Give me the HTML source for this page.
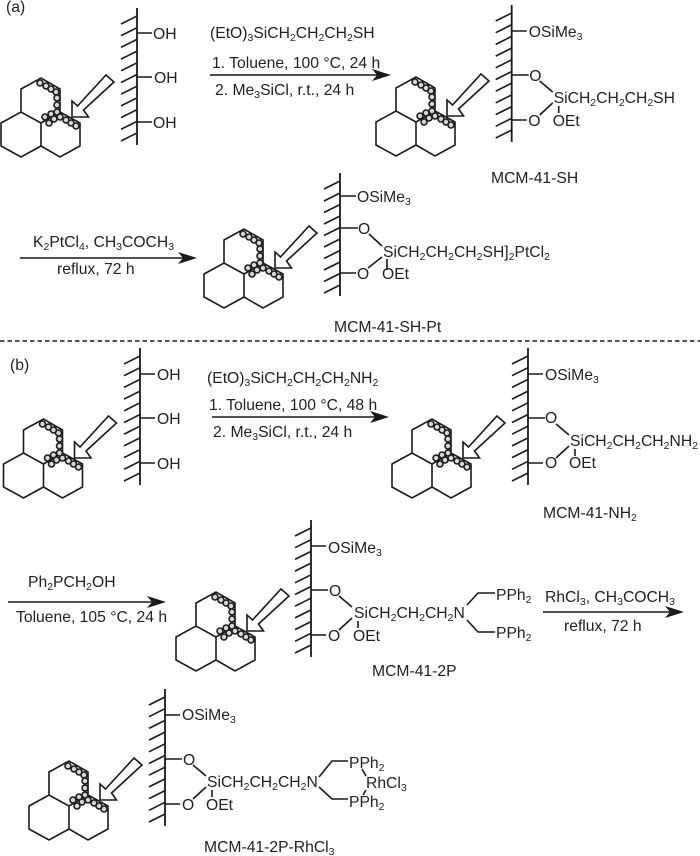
<!DOCTYPE html>
<html><head><meta charset="utf-8"><style>
html,body{margin:0;padding:0;background:#fff}
svg{display:block}
text{font-family:"Liberation Sans",sans-serif;font-size:15.7px;fill:#222}
.s{font-size:10.5px}
.l{stroke:#1a1a1a;stroke-width:1.6;fill:none}
</style></head><body>
<svg width="700" height="856" viewBox="0 0 700 856" xmlns="http://www.w3.org/2000/svg">
<defs>
<g id="cluster">
<path class="l" d="M21 112V89L41 78L60 89V112L80 123V146L60 157L41 146V123L21 112L1 123V146L21 157L41 146M60 112L41 123"/>
<path d="M106 75L114 82L83.500 110L88.500 117H72V101L77.500 106Z" fill="#fff" stroke="#1a1a1a" stroke-width="1.6"/>
<g fill="#d6d6d6" stroke="#1c1c1c" stroke-width="1.6">
<circle cx="40" cy="83" r="3"/><circle cx="46" cy="86" r="3"/><circle cx="51" cy="89" r="3"/><circle cx="56" cy="92" r="3"/><circle cx="57" cy="98" r="3"/><circle cx="57" cy="105" r="3"/><circle cx="57" cy="112" r="3"/><circle cx="45" cy="117" r="3"/><circle cx="51" cy="114" r="3"/><circle cx="49" cy="123" r="3"/><circle cx="54" cy="119" r="3"/><circle cx="60" cy="117" r="3"/><circle cx="66" cy="120" r="3"/><circle cx="71" cy="123" r="3"/><circle cx="76" cy="126" r="3"/>
</g>
</g>
<g id="wall" class="l">
<path stroke-width="1.8" d="M0 0V137"/>
<path d="M0 8L-16 16M0 19.700L-16 27.700M0 31.400L-16 39.400M0 43.100L-16 51.100M0 54.800L-16 62.800M0 66.500L-16 74.500M0 78.200L-16 86.200M0 89.900L-16 97.900M0 101.600L-16 109.600M0 113.300L-16 121.300M0 125L-16 133"/>
</g>
<g id="silyl" class="l">
<use href="#wall"/>
<path d="M0 26H15M0 70H17M0 115H15M28 76L41 87M28 110L41 98M47 101V108"/>
</g>
</defs>

<text x="6" y="12">(a)</text>
<text x="10" y="370">(b)</text>
<path d="M0 341H700" stroke="#1a1a1a" stroke-width="1.5" stroke-dasharray="4.500 3"/>

<!-- a1 -->
<use href="#cluster"/>
<g transform="translate(137,8)"><use href="#wall"/></g>
<path class="l" d="M137 33H152M137 77H152M137 122H152"/>
<text x="153" y="39">OH</text><text x="154" y="83">OH</text><text x="153" y="128">OH</text>

<text x="210" y="38">(EtO)<tspan class="s" dy="3">3</tspan><tspan dy="-3">SiCH</tspan><tspan class="s" dy="3">2</tspan><tspan dy="-3">CH</tspan><tspan class="s" dy="3">2</tspan><tspan dy="-3">CH</tspan><tspan class="s" dy="3">2</tspan><tspan dy="-3">SH</tspan></text>
<text x="212" y="68">1. Toluene, 100 °C, 24 h</text>
<path d="M210 75H378" stroke="#1a1a1a" stroke-width="1.6"/><path d="M391 75L372 69L377 75L372 81Z" fill="#1a1a1a"/>
<text x="215" y="95">2. Me<tspan class="s" dy="3">3</tspan><tspan dy="-3">SiCl, r.t., 24 h</tspan></text>

<!-- a2 -->
<use href="#cluster" x="375" y="-1"/>
<g transform="translate(511.700,5)"><use href="#silyl"/>
<text x="17" y="32">OSiMe<tspan class="s" dy="3">3</tspan></text>
<text x="17.500" y="76">O</text><text x="16.500" y="121">O</text>
<text x="42" y="98">SiCH<tspan class="s" dy="3">2</tspan><tspan dy="-3">CH</tspan><tspan class="s" dy="3">2</tspan><tspan dy="-3">CH</tspan><tspan class="s" dy="3">2</tspan><tspan dy="-3">SH</tspan></text>
<text x="41" y="121">OEt</text></g>
<text x="491" y="183">MCM-41-SH</text>

<!-- a3 reagents -->
<text x="33" y="247">K<tspan class="s" dy="3">2</tspan><tspan dy="-3">PtCl</tspan><tspan class="s" dy="3">4</tspan><tspan dy="-3">, CH</tspan><tspan class="s" dy="3">3</tspan><tspan dy="-3">COCH</tspan><tspan class="s" dy="3">3</tspan></text>
<path d="M20 258H184" stroke="#1a1a1a" stroke-width="1.6"/><path d="M197 258L178 252L183 258L178 264Z" fill="#1a1a1a"/>
<text x="57" y="274">reflux, 72 h</text>

<!-- a3 -->
<use href="#cluster" x="203" y="151"/>
<path stroke="#1a1a1a" stroke-width="1.8" d="M340 173V296"/>
<path class="l" d="M340 181L324 189M340 193L324 201M340 204.500L324 212.500M340 216L324 224M340 227.500L324 235.500M340 239L324 247M340 250.500L324 258.500M340 262L324 270M340 273.500L324 281.500M340 285L324 293M340 196H356M340 228H358M340 273H356M369 234L382 246M368 268L382 257M387 259V270"/>
<text x="357" y="202">OSiMe<tspan class="s" dy="3">3</tspan></text>
<text x="358" y="234">O</text><text x="357" y="279">O</text>
<text x="383" y="257">SiCH<tspan class="s" dy="3">2</tspan><tspan dy="-3">CH</tspan><tspan class="s" dy="3">2</tspan><tspan dy="-3">CH</tspan><tspan class="s" dy="3">2</tspan><tspan dy="-3">SH]</tspan><tspan class="s" dy="3">2</tspan><tspan dy="-3">PtCl</tspan><tspan class="s" dy="3">2</tspan></text>
<text x="382" y="279">OEt</text>
<text x="334" y="332">MCM-41-SH-Pt</text>

<!-- b1 -->
<use href="#cluster" x="2.500" y="341"/>
<g transform="translate(140,348)"><use href="#wall"/></g>
<path class="l" d="M140 374H155M140 418H155M140 463H155"/>
<text x="157" y="380">OH</text><text x="157" y="424">OH</text><text x="157" y="469">OH</text>

<text x="207" y="383">(EtO)<tspan class="s" dy="3">3</tspan><tspan dy="-3">SiCH</tspan><tspan class="s" dy="3">2</tspan><tspan dy="-3">CH</tspan><tspan class="s" dy="3">2</tspan><tspan dy="-3">CH</tspan><tspan class="s" dy="3">2</tspan><tspan dy="-3">NH</tspan><tspan class="s" dy="3">2</tspan></text>
<text x="209" y="410">1. Toluene, 100 °C, 48 h</text>
<path d="M212 417H376" stroke="#1a1a1a" stroke-width="1.6"/><path d="M389 417L370 411L375 417L370 423Z" fill="#1a1a1a"/>
<text x="213" y="437">2. Me<tspan class="s" dy="3">3</tspan><tspan dy="-3">SiCl, r.t., 24 h</tspan></text>

<!-- b2 -->
<use href="#cluster" x="391" y="341"/>
<g transform="translate(528,348)"><use href="#silyl"/>
<text x="17" y="32">OSiMe<tspan class="s" dy="3">3</tspan></text>
<text x="17" y="75">O</text><text x="17" y="120">O</text>
<text x="42" y="98">SiCH<tspan class="s" dy="3">2</tspan><tspan dy="-3">CH</tspan><tspan class="s" dy="3">2</tspan><tspan dy="-3">CH</tspan><tspan class="s" dy="3">2</tspan><tspan dy="-3">NH</tspan><tspan class="s" dy="3">2</tspan></text>
<text x="41" y="120">OEt</text></g>
<text x="543" y="518">MCM-41-NH<tspan class="s" dy="3">2</tspan></text>

<!-- b3 -->
<text x="28" y="587">Ph<tspan class="s" dy="3">2</tspan><tspan dy="-3">PCH</tspan><tspan class="s" dy="3">2</tspan><tspan dy="-3">OH</tspan></text>
<path d="M8 602H153" stroke="#1a1a1a" stroke-width="1.6"/><path d="M166 602L147 596L152 602L147 608Z" fill="#1a1a1a"/>
<text x="16" y="622">Toluene, 105 °C, 24 h</text>

<use href="#cluster" x="175" y="514"/>
<g transform="translate(311,520)"><use href="#silyl"/>
<text x="17" y="33">OSiMe<tspan class="s" dy="3">3</tspan></text>
<text x="18" y="76">O</text><text x="17" y="121">O</text>
<text x="43" y="98">SiCH<tspan class="s" dy="3">2</tspan><tspan dy="-3">CH</tspan><tspan class="s" dy="3">2</tspan><tspan dy="-3">CH</tspan><tspan class="s" dy="3">2</tspan><tspan dy="-3">N</tspan></text>
<text x="42" y="121">OEt</text></g>
<path class="l" d="M467 605L478 593H495M467 620L478 632H495"/>
<text x="496" y="600">PPh<tspan class="s" dy="3">2</tspan></text>
<text x="496" y="638">PPh<tspan class="s" dy="3">2</tspan></text>
<text x="372" y="676">MCM-41-2P</text>

<text x="545" y="602">RhCl<tspan class="s" dy="3">3</tspan><tspan dy="-3">, CH</tspan><tspan class="s" dy="3">3</tspan><tspan dy="-3">COCH</tspan><tspan class="s" dy="3">3</tspan></text>
<path d="M543 612H671" stroke="#1a1a1a" stroke-width="1.6"/><path d="M684 612L665 606L670 612L665 618Z" fill="#1a1a1a"/>
<text x="564" y="631">reflux, 72 h</text>

<!-- b4 -->
<use href="#cluster" x="28" y="683"/>
<g transform="translate(165,689)"><use href="#silyl"/>
<text x="17" y="31">OSiMe<tspan class="s" dy="3">3</tspan></text>
<text x="18" y="76">O</text><text x="17" y="121">O</text>
<text x="42" y="98">SiCH<tspan class="s" dy="3">2</tspan><tspan dy="-3">CH</tspan><tspan class="s" dy="3">2</tspan><tspan dy="-3">CH</tspan><tspan class="s" dy="3">2</tspan><tspan dy="-3">N</tspan></text>
<text x="41" y="121">OEt</text></g>
<path class="l" d="M319 777L332 761H348M319 787L332 799H348M362 769L366 776M363 795L366 790"/>
<text x="349" y="768">PPh<tspan class="s" dy="3">2</tspan></text>
<text x="349" y="807">PPh<tspan class="s" dy="3">2</tspan></text>
<text x="366" y="788">RhCl<tspan class="s" dy="3">3</tspan></text>
<text x="204" y="852">MCM-41-2P-RhCl<tspan class="s" dy="3">3</tspan></text>
</svg>
</body></html>
